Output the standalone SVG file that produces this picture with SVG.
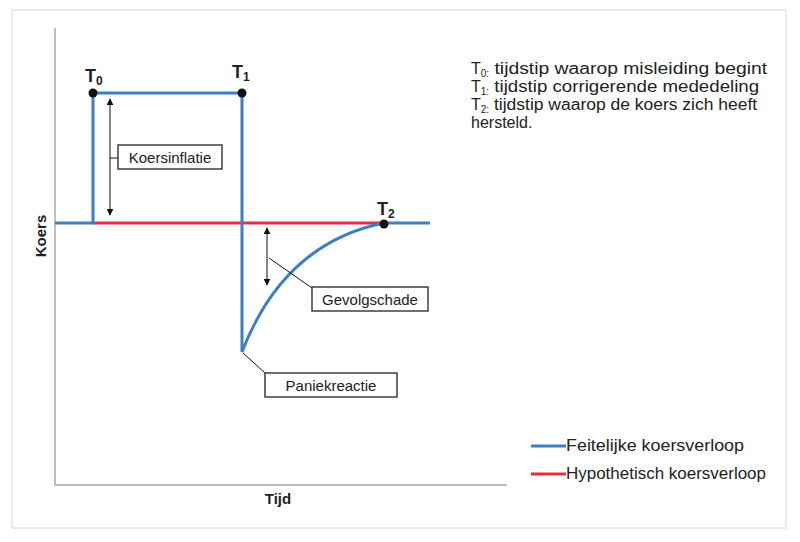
<svg xmlns="http://www.w3.org/2000/svg" width="800" height="542" viewBox="0 0 800 542">
<style>
text{font-family:"Liberation Sans",Arial,sans-serif;fill:#222}
.b{fill:none;stroke:#3b7fc4;stroke-width:3}
.r{fill:none;stroke:#e0323c;stroke-width:3}
.k{fill:none;stroke:#111;stroke-width:1}
.box{fill:#fff;stroke:#222;stroke-width:1.3}
.ax{stroke:#aaa;stroke-width:1.5;fill:none}
</style>
<defs><marker id="a" viewBox="0 0 10 10" refX="9" refY="5" markerWidth="7" markerHeight="7" orient="auto-start-reverse"><path d="M0,0L10,5L0,10z" fill="#111"/></marker></defs>
<rect x="0" y="0" width="800" height="542" fill="#fff"/>
<rect x="12" y="10" width="774" height="518" fill="none" stroke="#e4e4e4" stroke-width="1.5"/>
<g id="axes">
<path class="ax" d="M55,28V485H507"/>
<text x="278" y="504" font-size="15" font-weight="bold" text-anchor="middle">Tijd</text>
<text transform="translate(46,236) rotate(-90)" font-size="15" font-weight="bold" text-anchor="middle">Koers</text>
</g>
<g id="connectors">
<path class="r" d="M93,223H384"/>
<path class="b" d="M55,223H93V93H242V352C262,300 300,240 384,223H430"/>
<path class="k" d="M110,99V215" marker-start="url(#a)" marker-end="url(#a)"/>
<path class="k" d="M110,158H118"/>
<path class="k" d="M267,228V285" marker-start="url(#a)" marker-end="url(#a)"/>
<path class="k" d="M269,258L312,288"/>
<path class="k" d="M243,353L265,373"/>
</g>
<g id="points" fill="#111">
<circle cx="93" cy="93" r="4.5"/><circle cx="242" cy="93" r="4.5"/><circle cx="384" cy="224" r="4.5"/>
<text x="85" y="82" font-size="18" font-weight="bold">T<tspan font-size="12" dy="3">0</tspan></text>
<text x="232" y="78" font-size="18" font-weight="bold">T<tspan font-size="12" dy="3">1</tspan></text>
<text x="377" y="215" font-size="18" font-weight="bold">T<tspan font-size="12" dy="3">2</tspan></text>
</g>
<g id="koersinflatie"><rect class="box" x="118" y="145" width="104" height="24"/><text x="170" y="163" font-size="15" text-anchor="middle">Koersinflatie</text></g>
<g id="gevolgschade"><rect class="box" x="312" y="287" width="116" height="24"/><text x="370" y="305" font-size="15" text-anchor="middle">Gevolgschade</text></g>
<g id="paniekreactie"><rect class="box" x="265" y="373" width="132" height="24"/><text x="331" y="391" font-size="15" text-anchor="middle">Paniekreactie</text></g>
<g id="notes" font-size="16">
<text x="471" y="74">T<tspan font-size="10" dy="3">0:</tspan><tspan dy="-3" textLength="278" lengthAdjust="spacingAndGlyphs"> tijdstip waarop misleiding begint</tspan></text>
<text x="471" y="92">T<tspan font-size="10" dy="3">1:</tspan><tspan dy="-3" textLength="270" lengthAdjust="spacingAndGlyphs"> tijdstip corrigerende mededeling</tspan></text>
<text x="471" y="110">T<tspan font-size="10" dy="3">2:</tspan><tspan dy="-3" textLength="268" lengthAdjust="spacingAndGlyphs"> tijdstip waarop de koers zich heeft</tspan></text>
<text x="471" y="128">hersteld.</text>
</g>
<g id="legend" font-size="16">
<path d="M531,446H566" stroke="#3b7fc4" stroke-width="3"/>
<text x="566" y="451" textLength="178" lengthAdjust="spacingAndGlyphs">Feitelijke koersverloop</text>
<path d="M531,474H566" stroke="#e0323c" stroke-width="3"/>
<text x="566" y="479" textLength="200" lengthAdjust="spacingAndGlyphs">Hypothetisch koersverloop</text>
</g>
</svg>
